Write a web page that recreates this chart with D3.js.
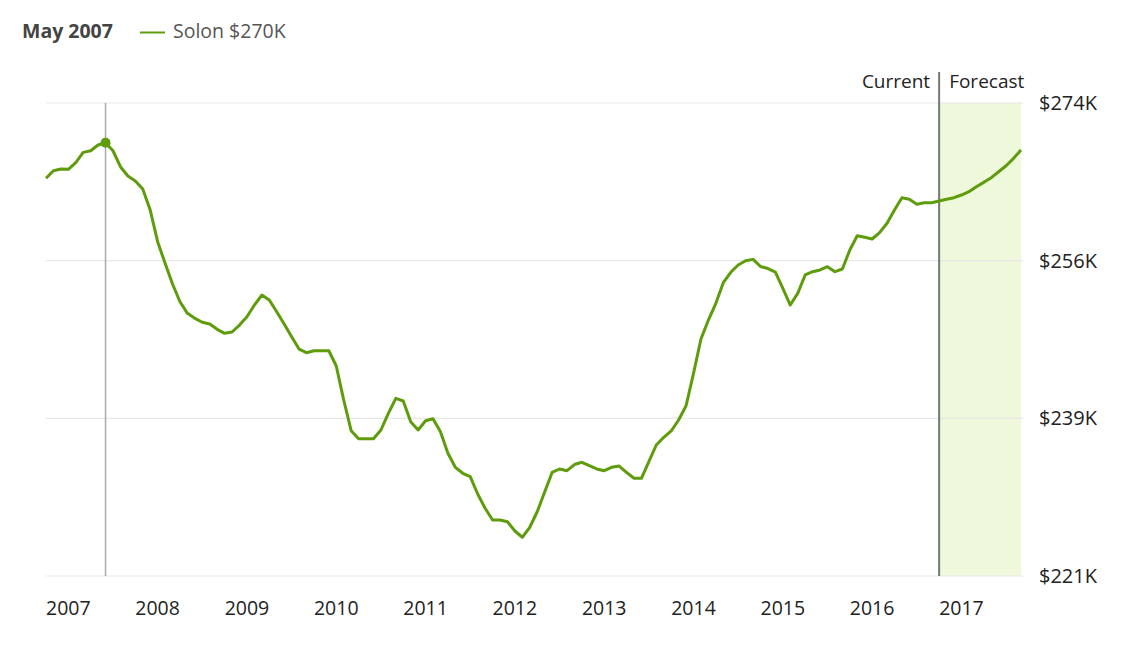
<!DOCTYPE html>
<html>
<head>
<meta charset="utf-8">
<script src="https://cdn.jsdelivr.net/npm/d3@7"></script>
<style>
  html, body { margin: 0; padding: 0; background: #fff; }
  svg { display: block; font-family: "Open Sans", "Noto Sans", sans-serif; }
</style>
</head>
<body>
<svg id="chart" width="1132" height="660"></svg>
<script>
// ---- data (values in $K, monthly) ----
const seriesName = "Solon";
const values = [
  265.56, 266.41, 266.60, 266.57, 267.31, 268.47, 268.65, 269.29, 269.55, 268.65,
  266.86, 265.82, 265.26, 264.36, 262.01, 258.46, 256.04, 253.72, 251.73, 250.43,
  249.87, 249.43, 249.24, 248.64, 248.19, 248.34, 249.12, 250.05, 251.36, 252.48,
  251.92, 250.61, 249.24, 247.81, 246.43, 246.02, 246.24, 246.24, 246.24, 244.53,
  240.72, 237.28, 236.38, 236.38, 236.38, 237.36, 239.23, 240.91, 240.61, 238.29,
  237.36, 238.40, 238.62, 237.17, 234.75, 233.18, 232.51, 232.13, 230.19, 228.59,
  227.27, 227.27, 227.08, 226.04, 225.34, 226.46, 228.20, 230.41, 232.60, 232.99,
  232.80, 233.49, 233.74, 233.36, 232.99, 232.80, 233.18, 233.32, 232.62, 231.95,
  231.95, 233.81, 235.68, 236.54, 237.25, 238.48, 240.08, 243.71, 247.55, 249.68,
  251.55, 253.86, 255.03, 255.85, 256.33, 256.48, 255.68, 255.45, 255.06, 253.24,
  251.36, 252.67, 254.73, 255.10, 255.29, 255.66, 255.10, 255.40, 257.53, 259.13,
  258.95, 258.76, 259.47, 260.52, 262.01, 263.39, 263.21, 262.65, 262.83, 262.83,
  263.02, 263.21, 263.39, 263.69, 264.06, 264.62, 265.11, 265.63, 266.30, 266.97,
  267.80, 268.73
];
const yearLabels = ["2007","2008","2009","2010","2011","2012","2013","2014","2015","2016","2017"];
const yearTickIndex = [0, 12, 24, 36, 48, 60, 72, 84, 96, 108, 120];
const yTickValues = [221, 238.667, 256.333, 274];
const yTickLabels = ["$221K", "$239K", "$256K", "$274K"];
const hoverIndex = 8;
const hoverLabel = "May 2007";
const currentIndex = 120;
const currentText = "Current";
const forecastText = "Forecast";

(function () {
// ---- layout ----
const pLeft = 46, pRight = 1021, pTop = 103, pBottom = 576;
const green = "#5e9c0c";

const svg = d3.select("#chart");
const x = d3.scaleLinear().domain([0, values.length - 1]).range([pLeft, pRight]);
const y = d3.scaleLinear().domain([221, 274]).range([pBottom, pTop]);

// forecast shading
svg.append("rect")
  .attr("x", x(currentIndex)).attr("y", pTop)
  .attr("width", x(values.length - 1) - x(currentIndex))
  .attr("height", pBottom - pTop)
  .attr("fill", "#eef8da");

// gridlines
svg.append("g").selectAll("line").data(yTickValues).join("line")
  .attr("x1", pLeft).attr("x2", pRight + 2)
  .attr("y1", d => y(d)).attr("y2", d => y(d))
  .attr("stroke", "#e8e8e8").attr("stroke-width", 1.2);

// y labels
svg.append("g").selectAll("text").data(yTickValues).join("text")
  .attr("x", 1039).attr("y", d => y(d)).attr("dy", "0.35em")
  .attr("font-size", 20).attr("fill", "#222")
  .text((d, i) => yTickLabels[i]);

// x labels
svg.append("g").selectAll("text").data(yearTickIndex).join("text")
  .attr("x", d => x(d)).attr("y", 615)
  .attr("font-size", 19.5).attr("fill", "#222")
  .text((d, i) => yearLabels[i]);

// current line
svg.append("line")
  .attr("x1", x(currentIndex)).attr("x2", x(currentIndex))
  .attr("y1", 72).attr("y2", pBottom)
  .attr("stroke", "#777").attr("stroke-width", 2);
svg.append("text").attr("x", x(currentIndex) - 9).attr("y", 88)
  .attr("text-anchor", "end").attr("font-size", 19).attr("fill", "#222").text(currentText);
svg.append("text").attr("x", x(currentIndex) + 10).attr("y", 88)
  .attr("font-size", 19).attr("fill", "#222").text(forecastText);

// hover line
svg.append("line")
  .attr("x1", x(hoverIndex)).attr("x2", x(hoverIndex))
  .attr("y1", pTop).attr("y2", pBottom)
  .attr("stroke", "#aaa").attr("stroke-width", 1.5);

// series line
const line = d3.line().x((d, i) => x(i)).y(d => y(d));
svg.append("path").datum(values)
  .attr("d", line).attr("fill", "none")
  .attr("stroke", green).attr("stroke-width", 3)
  .attr("stroke-linejoin", "round");

// hover marker
svg.append("circle")
  .attr("cx", x(hoverIndex)).attr("cy", y(values[hoverIndex]))
  .attr("r", 5).attr("fill", green);

// header / legend
svg.append("text").attr("x", 22).attr("y", 38)
  .attr("font-size", 19.5).attr("font-weight", "bold").attr("fill", "#444")
  .text(hoverLabel);
svg.append("line").attr("x1", 140).attr("x2", 165).attr("y1", 32.5).attr("y2", 32.5)
  .attr("stroke", green).attr("stroke-width", 2);
svg.append("text").attr("x", 173).attr("y", 38)
  .attr("font-size", 19.5).attr("fill", "#555")
  .text(seriesName + " $" + Math.round(values[hoverIndex]) + "K");
})();
</script>
</body>
</html>
